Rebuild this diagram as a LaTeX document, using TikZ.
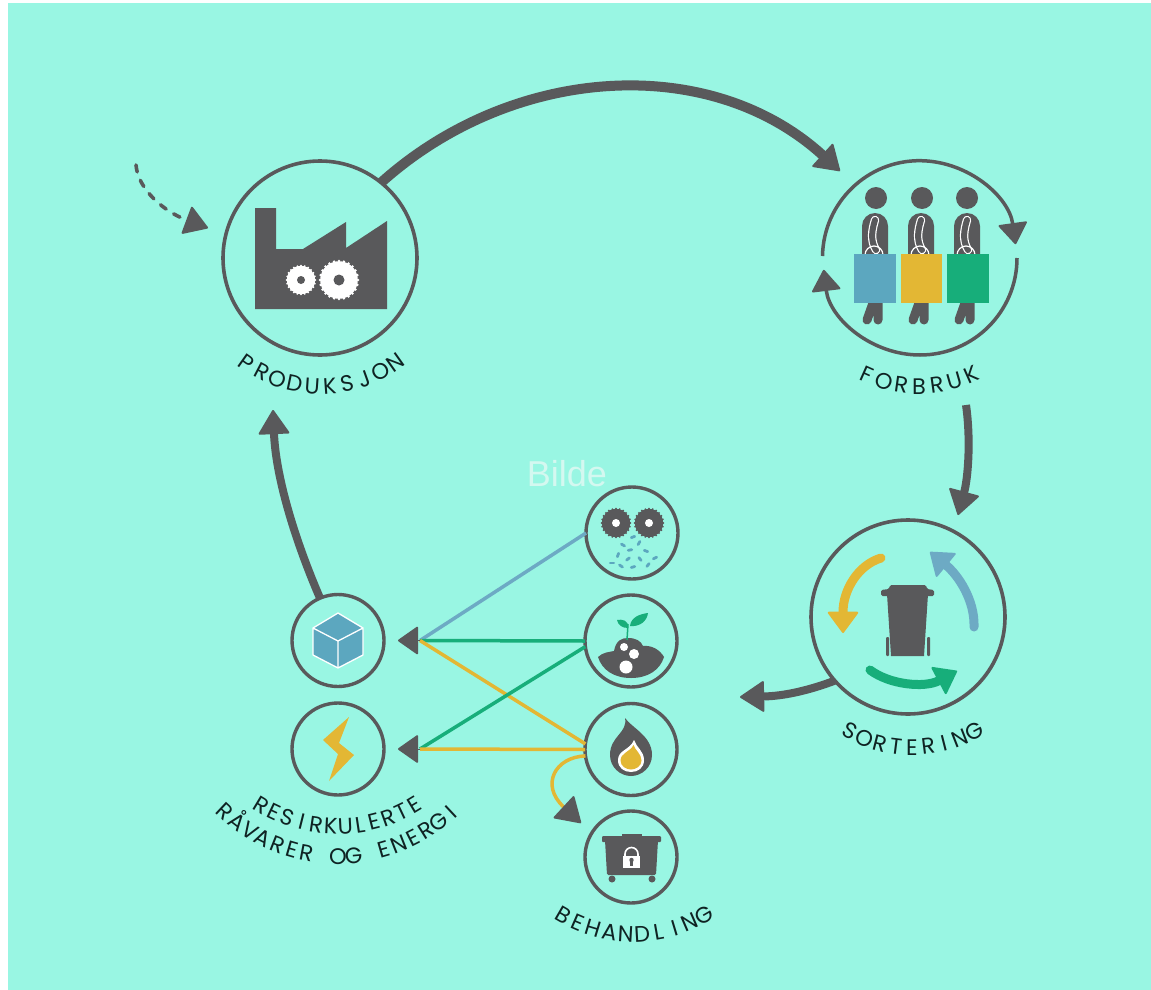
\documentclass[tikz,border=0pt]{standalone}
\usepackage{fontspec}
\usetikzlibrary{arrows.meta}
\setmainfont{Liberation Sans}
\newfontfamily\poppinsfam{Poppins}
\newcommand\labfont{\poppinsfam\fontsize{22.5}{22.5}\selectfont}
\definecolor{bgc}{HTML}{99F6E3}
\definecolor{greyc}{HTML}{59595B}
\definecolor{bluec}{HTML}{5CA7BF}
\definecolor{linec}{HTML}{6DAAC4}
\definecolor{goldc}{HTML}{E3B734}
\definecolor{greenc}{HTML}{17AE7A}
\definecolor{inkc}{HTML}{0F2323}
\definecolor{ghostc}{HTML}{D4F8F0}
\newbox\lblbox
\newcommand\arclabel[7]{%
  \gdef\arcsum{0}\gdef\arccnt{0}%
  \foreach \ch in {#7}{%
    \setbox\lblbox=\hbox{\labfont\ch}%
    \pgfmathsetmacro\tmpa{\arcsum+\the\wd\lblbox}\xdef\arcsum{\tmpa}%
    \pgfmathsetmacro\tmpb{\arccnt+1}\xdef\arccnt{\tmpb}%
  }%
  \pgfmathsetmacro\arcgap{(2*#6-\arcsum)/(\arccnt-1)}%
  \xdef\arcgap{\arcgap}%
  \xdef\arcpos{-#6}%
  \foreach \ch [count=\i] in {#7}{%
    \setbox\lblbox=\hbox{\labfont\ch}%
    \pgfmathsetmacro\ww{\the\wd\lblbox}%
    \pgfmathsetmacro\ang{(\arcpos+\ww/2)/#4*180/pi+#5}%
    \node[lettermark,rotate=\ang] (#1\i) at ({#2+#4*sin(\ang)},{#3+#4*cos(\ang)}) {\ch};
    \pgfmathsetmacro\tmpc{\arcpos+\ww+\arcgap}\xdef\arcpos{\tmpc}%
  }%
}
\newcommand\gearicon[6]{%
  \fill[#4] (#1,#2) circle[radius=#3*0.94];
  \foreach \a in {0,15,...,345}{\fill[#4] ({#1+#3*0.95*cos(\a)},{#2+#3*0.95*sin(\a)}) circle[radius=#3*0.07];}
  \fill[#5] (#1,#2) circle[radius=#6];
}
\newcommand\personicon[2]{%
  \fill[greyc] (#2,198) circle[radius=11];
  \fill[greyc] (#1-13,256) -- (#1-13,226) arc[start angle=180,end angle=360,radius=13] -- (#1+13,256) -- cycle;
  \draw[white,line width=8.4pt,line cap=round] (#1,220) .. controls (#1-3,230) and (#1-5,240) .. (#1+1,250);
  \draw[greyc,line width=6pt,line cap=round] (#1,220) .. controls (#1-3,230) and (#1-5,240) .. (#1+1,250);
  \draw[white,line width=1.2pt] (#1-10,255) arc[start angle=180,end angle=360,radius=9];
  \draw[greyc,line width=9pt,line cap=round] (#1-2,303) -- (#1-8,320) (#1+3,303) -- (#1+3,320);
}
\tikzset{
  x=1pt,y=-1pt,
  lettermark/.style={anchor=base,inner sep=0pt,outer sep=0pt,font=\labfont,text=inkc},
  bigring/.style={circle,draw=greyc,line width=3.6pt,minimum size=194pt,inner sep=0pt,outer sep=0pt},
  smallring/.style={circle,draw=greyc,line width=3.4pt,minimum size=92pt,inner sep=0pt,outer sep=0pt},
  flowarrow/.style={draw=greyc,line width=#1,-{Triangle[length=25pt,width=32pt,line width=2pt,round]}},
  flowarrow/.default=8pt,
  thinlink/.style={line width=3.5pt},
  hubhead/.style={draw=greyc,fill=greyc,line width=1pt,-{Triangle[length=21pt,width=29pt,line width=2pt,round]}},
  inner arrow/.style={draw=#1,color=#1,line width=9pt,line cap=round,-{Triangle[length=22pt,width=32pt,line width=2pt,round]}},
  loop arrow/.style={draw=greyc,line width=3.5pt,-{Triangle[length=22pt,width=30pt,line width=2pt,round]}},
}
\begin{document}
\begin{tikzpicture}
\useasboundingbox (0,0) rectangle (1151,990);
\fill[white] (0,0) rectangle (1151,990);
\fill[bgc] (8,3) rectangle (1151,990);

% rings
\node[bigring] (prod) at (320,258) {};
\coordinate (forb) at (920,258);
\node[bigring] (sort) at (908,617) {};
\node[smallring] (gear) at (632,533) {};
\node[smallring] (plant) at (631,641) {};
\node[smallring] (flame) at (631,749.5) {};
\node[smallring] (dump) at (631,857) {};
\node[smallring] (cube) at (338,640.5) {};
\node[smallring] (bolt) at (338,749) {};

% coordinates for free ends
\coordinate (forbTip) at (840,171);
\coordinate (forbOut) at (966,405);
\coordinate (sortTip) at (958,515);
\coordinate (midTip) at (740,697);
\coordinate (prodTip) at (273,410);
\coordinate (dashA) at (136,165);
\coordinate (dashB) at (208,228);
\coordinate (hubA) at (420,640.5);
\coordinate (hubB) at (420,749);
\coordinate (hubTipA) at (398,640.5);
\coordinate (hubTipB) at (398,749);
\coordinate (dumpTip) at (581,823);

% main cycle
\draw[flowarrow=10pt] (prod.51) .. controls (512,65) and (709,52) .. (forbTip);
\draw[flowarrow=8pt] (forbOut) .. controls (971,440) and (968,478) .. (sortTip);
\draw[flowarrow=8pt] (sort.221) .. controls (810,690) and (785,696) .. (midTip);
\draw[flowarrow=8pt] (cube.113) .. controls (297,545) and (276,480) .. (prodTip);
\draw[draw=greyc,line width=3.6pt,line cap=round,dash pattern=on 7pt off 9pt,-{Triangle[length=24pt,width=30pt,line width=2pt,round]}]
  (dashA) .. controls (138,190) and (165,212) .. (dashB);

% thin links
\draw[thinlink,linec] (gear.180) -- (hubA);
\draw[thinlink,greenc] (plant.180) -- (hubA);
\draw[thinlink,goldc] (flame.173) -- (hubA);
\draw[thinlink,greenc] (plant.187) -- (hubB);
\draw[thinlink,goldc] (flame.180) -- (hubB);
\draw[thinlink,goldc,-{Triangle[length=25pt,width=31pt,line width=2pt,round,fill=greyc,color=greyc]}]
  (flame.188) .. controls (555,757) and (540,785) .. (dumpTip);
\draw[hubhead] (hubA) -- (hubTipA);
\draw[hubhead] (hubB) -- (hubTipB);

% factory
\fill[greyc] (255,208) -- (276,208) -- (276,249) -- (303,249) -- (346,222) -- (346,248) -- (387,221) -- (387,309) -- (255,309) -- cycle;
\gearicon{301}{280}{15}{white}{greyc}{4}
\gearicon{339}{280}{20}{white}{greyc}{5.5}

% forbruk
\draw[loop arrow] (822.5,256) arc[start angle=181,end angle=352,radius=97];
\draw[loop arrow] (1017,258) arc[start angle=0,end angle=173,radius=97];
\personicon{875}{876}
\personicon{921}{922}
\personicon{967}{967}
\fill[bluec] (854,254) rectangle (896,303);
\fill[goldc] (901,254) rectangle (942,303);
\fill[greenc] (947,254) rectangle (989,303);

% sort icon
\fill[greyc] (887,594) -- (928,594) -- (924,656) -- (891,656) -- cycle;
\fill[greyc,rounded corners=1.5pt] (881,596) -- (881,590) -- (889,589) -- (890,585) -- (926,585) -- (927,589) -- (934,590) -- (934,596) -- cycle;
\fill[greyc,rounded corners=1pt] (886,637) rectangle (889,656);
\fill[greyc,rounded corners=1pt] (927,637) rectangle (930,656);
\draw[inner arrow=goldc] (881,558) .. controls (858,565) and (843,590) .. (843,633);
\draw[inner arrow=linec] (974,627) .. controls (975,600) and (958,575) .. (930,552);
\draw[inner arrow=greenc] (870,670) .. controls (890,685) and (925,688) .. (957,671);

% gears and particles
\gearicon{616}{523}{15}{greyc}{white}{4}
\gearicon{649}{523}{15}{greyc}{white}{4}
\foreach \px/\py/\pr in {633/537/20,623/545/-30,639/543/60,618/555/70,630/550/10,646/551/-20,628/559/40,640/559/-50,655/558/25,612/563/0,621/566/-35,633/567/15,648/565/50}{
  \draw[bluec,line width=2.8pt,line cap=round,rotate around={\pr:(\px,\py)}] (\px-1.8,\py) -- (\px+1.8,\py);
}

% plant
\fill[greyc] (598,657) .. controls (603,652) and (610,652) .. (614,651) .. controls (616,640) and (622,638) .. (628,638) .. controls (636,638) and (641,641) .. (643,646) .. controls (652,645) and (660,650) .. (664,657) .. controls (660,670) and (648,678) .. (631,678) .. controls (614,678) and (602,670) .. (598,657) -- cycle;
\fill[white] (624,647) circle[radius=4] (634,654) circle[radius=5] (626,667) circle[radius=6.5];
\draw[greenc,line width=1.5pt] (627,640) -- (628,624);
\fill[greenc] (628,628) .. controls (622,628) and (618,625) .. (617,620) .. controls (622,619) and (629,620) .. (628,628) -- cycle;
\fill[greenc] (630,626) .. controls (631,617) and (640,614) .. (648,613) .. controls (647,621) and (640,627) .. (630,626) -- cycle;

% flame
\fill[greyc] (625,718) .. controls (632,728) and (652,736) .. (652,755) .. controls (652,767) and (642,776) .. (631,776) .. controls (620,776) and (610,767) .. (610,755) .. controls (610,736) and (628,733) .. (625,718) -- cycle;
\fill[white] (634,740) .. controls (636,747) and (644,751) .. (644,760) .. controls (644,768) and (638,772) .. (631,772) .. controls (624,772) and (618,768) .. (618,760) .. controls (618,750) and (630,750) .. (634,740) -- cycle;
\fill[goldc] (633.5,745) .. controls (635,750) and (641.5,754) .. (641.5,760.5) .. controls (641.5,766) and (636,769.5) .. (631,769.5) .. controls (626,769.5) and (620.5,766) .. (620.5,760.5) .. controls (620.5,753) and (630,752) .. (633.5,745) -- cycle;

% dumpster
\fill[greyc] (622,834) rectangle (642,838);
\fill[greyc,rounded corners=1pt] (602,836) rectangle (661,842);
\fill[greyc,rounded corners=1.5pt] (605,840) -- (658,840) -- (656,875) -- (607,875) -- cycle;
\fill[greyc] (612,879) circle[radius=3.5] (652,879) circle[radius=3.5];
\draw[white,line width=1.6pt] (625,857) -- (625,854) arc[start angle=180,end angle=360,radius=6.5] -- (638,857);
\fill[white] (623,856) rectangle (640,868);
\fill[greyc] (631.5,860) circle[radius=2.2];
\fill[greyc] (630.3,861) rectangle (632.7,865.5);

% cube
\fill[bluec] (338,613) -- (363,628) -- (363,655) -- (338,668) -- (313,655) -- (313,628) -- cycle;
\draw[white,line width=1.3pt,line join=round] (338,613) -- (363,628) -- (363,655) -- (338,668) -- (313,655) -- (313,628) -- cycle (313,628) -- (338,641) -- (363,628) (338,641) -- (338,668);

% bolt
\fill[goldc] (349,717) -- (323,740) -- (338,754) -- (329,781) -- (354,755) -- (339,743) -- cycle;

% labels
\node[font=\fontsize{36}{36}\selectfont,text=ghostc,inner sep=0pt] (bildeText) at (567,474) {Bilde};
\arclabel{lp}{321}{258}{136}{0}{84}{P,R,O,D,U,K,S,J,O,N}
\arclabel{lf}{919}{258}{136}{0}{57}{F,O,R,B,R,U,K}
\arclabel{ls}{912}{617}{138}{0}{69}{S,O,R,T,E,R,I,N,G}
\arclabel{lb}{634}{794}{148}{0}{78}{B,E,H,A,N,D,L,I,N,G}
\arclabel{lr}{338}{677}{157}{0}{85}{R,E,S,I,R,K,U,L,E,R,T,E}
\arclabel{lv}{338}{691}{173}{0}{130}{R,Å,V,A,R,E,R,~,O,G,~,E,N,E,R,G,I}
\end{tikzpicture}
\end{document}
